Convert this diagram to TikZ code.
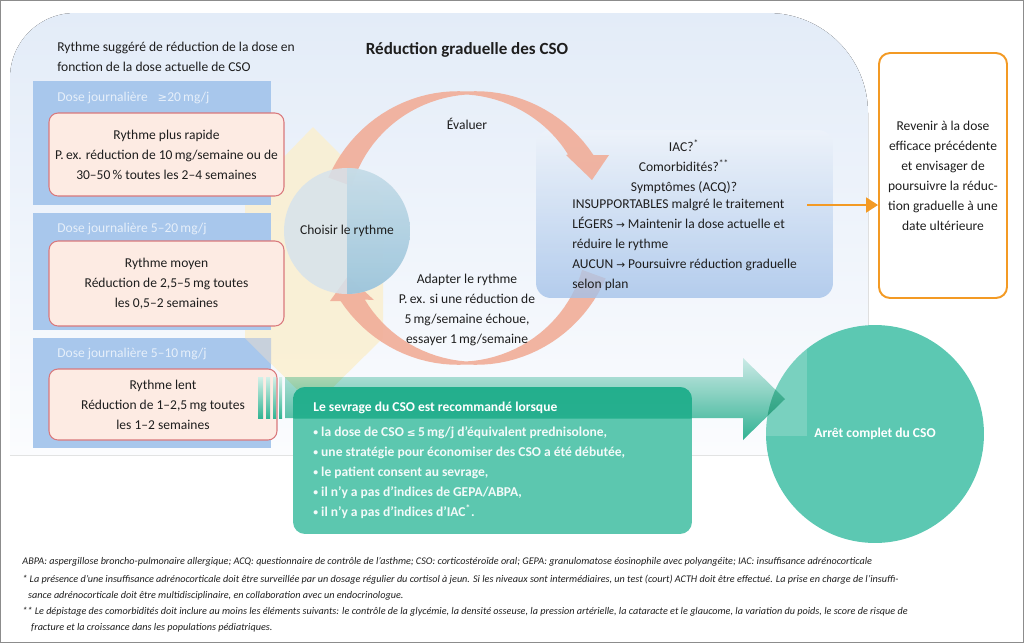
\documentclass[tikz,border=0pt]{standalone}
\usepackage{fontspec}
\setmainfont{Carlito}
\newfontfamily\symfont{DejaVu Sans}
\usetikzlibrary{arrows.meta}

\definecolor{bgtop}{HTML}{E3ECF8}
\definecolor{bgbottom}{HTML}{FBFCFE}
\definecolor{panelblue}{HTML}{A8C7EC}
\definecolor{headwhite}{HTML}{E6EFFA}
\definecolor{pinkfill}{HTML}{FDEBE3}
\definecolor{pinkline}{HTML}{D9787C}
\definecolor{hintyellow}{HTML}{FBEFCD}
\definecolor{hintgrey}{HTML}{C8D1DC}
\definecolor{ringsalmon}{HTML}{F1AD98}
\definecolor{bilantop}{HTML}{EEF3FA}
\definecolor{bilanbottom}{HTML}{A2C1E9}
\definecolor{choixgrey}{HTML}{D6E3EC}
\definecolor{choixtop}{HTML}{C4DCE8}
\definecolor{choixbottom}{HTML}{96C2DA}
\definecolor{retourorange}{HTML}{F39A24}
\definecolor{flechetop}{HTML}{D3F0E8}
\definecolor{flechebottom}{HTML}{33B594}
\definecolor{sevragegreen}{HTML}{5CC7AF}
\definecolor{sevragedark}{HTML}{22AE8C}
\definecolor{arretgreen}{HTML}{5CC8B2}
\definecolor{textdark}{HTML}{1E1E1E}
\definecolor{framegrey}{HTML}{8C8C8C}

\newcommand{\puce}{{\fontsize{5.5}{5}\selectfont\raisebox{0.3ex}{•}}}
\newcommand{\fleche}{{\symfont\fontsize{6}{6}\selectfont →}}

\begin{document}
\begin{tikzpicture}[x=0.02cm, y=-0.02cm,
  declare function={hw(\t)=1.5+9.5*abs(\t-90)/60;},
  txt/.style={font=\fontsize{7.7}{11.4}\selectfont, text=textdark, inner sep=0pt, align=center},
  bold/.style={font=\fontsize{7.7}{11.4}\selectfont\bfseries},
  dosehead/.style={txt, anchor=west, text=headwhite},
  rythme/.style={txt, draw=pinkline, line width=0.6pt, fill=pinkfill, rounded corners=0.18cm},
  ring/.style={fill=ringsalmon, fill opacity=0.9},
  bilan/.style={rounded corners=0.3cm, top color=bilantop, bottom color=bilanbottom, fill opacity=0.78},
  retour/.style={txt, draw=retourorange, line width=1.1pt, fill=white, rounded corners=0.22cm},
  orangearrow/.style={retourorange, line width=1.1pt, -{Triangle[length=0.24cm,width=0.3cm]}},
  note/.style={font=\fontsize{5.8}{9.2}\selectfont\itshape, text=textdark, anchor=west, align=left, inner sep=0pt}]

  \useasboundingbox (0,0) rectangle (1024,643);

  % fond
  \fill[top color=bgtop, bottom color=bgbottom] (10,455) -- (10,78)
    arc[start angle=180, end angle=270, radius=65] -- (768,13)
    arc[start angle=270, end angle=360, radius=100] -- (868,455) -- cycle;

  \node[circle, fill=arretgreen, minimum size=4.36cm, text=white, bold,
    path picture={\fill[white, fill opacity=0.18] (path picture bounding box.north west) rectangle (-7,-2);}]
    (arret) at (875,434) {Arrêt complet du CSO};

  \fill[hintyellow, fill opacity=0.8] (313,127) -- (383,197) -- (383,338) -- (314,406) -- (245,338) -- (245,197) -- cycle;

  % rythmes selon la dose
  \fill[panelblue] (33,81) rectangle (271,205);
  \fill[panelblue] (33,213) rectangle (271,330);
  \fill[panelblue] (33,338) rectangle (271,448);
  \fill[hintgrey] (245,338) -- (271,338) -- (271,364) -- cycle;

  \node[dosehead] (dose_0) at (57,98) {Dose journalière \enspace{\symfont\fontsize{6.5}{6}\selectfont ≥}20\,mg/j};
  \node[dosehead] (dose_1) at (57,229) {Dose journalière 5–20\,mg/j};
  \node[dosehead] (dose_2) at (57,354) {Dose journalière 5–10\,mg/j};

  \node[rythme, minimum width=4.7cm, minimum height=1.66cm] (rythme_0) at (166.5,154.5)
    {Rythme plus rapide\\P.\,ex. réduction de 10\,mg/semaine ou de\\30–50\,\% toutes les 2–4 semaines};
  \node[rythme, minimum width=4.7cm, minimum height=1.7cm] (rythme_1) at (166.5,283.5)
    {Rythme moyen\\Réduction de 2,5–5\,mg toutes\\les 0,5–2 semaines};
  \node[rythme, minimum width=4.56cm, minimum height=1.42cm] (rythme_2) at (163,404.5)
    {Rythme lent\\Réduction de 1–2,5\,mg toutes\\les 1–2 semaines};

  % cycle
  \fill[ring] plot[domain=-20:-150, samples=40] ({467+(135+hw(-\x))*cos(\x)},{228-(135+hw(-\x))*sin(\x)})
    -- (330,301) -- (348,276) -- (374,300)
    -- plot[domain=-145:-20, samples=40] ({467+(135-hw(-\x))*cos(\x)},{228-(135-hw(-\x))*sin(\x)}) -- cycle;

  \node[bilan, minimum width=5.94cm, minimum height=3.36cm] (bilan) at (684.5,214) {};
  \node[txt] (bilan_q) at (684,167) {IAC?\textsuperscript{*}\\Comorbidités?\textsuperscript{**}\\Symptômes (ACQ)?};
  \node[txt, anchor=west, align=left] (bilan_r) at (572,245)
    {INSUPPORTABLES malgré le traitement\\LÉGERS \fleche{} Maintenir la dose actuelle et\\réduire le rythme\\AUCUN \fleche{} Poursuivre réduction graduelle\\selon plan};

  \fill[ring] plot[domain=160:30, samples=40] ({467+(135+hw(\x))*cos(\x)},{228-(135+hw(\x))*sin(\x)})
    -- (609,155) -- (592,180) -- (566,155)
    -- plot[domain=36:160, samples=40] ({467+(135-hw(\x))*cos(\x)},{228-(135-hw(\x))*sin(\x)}) -- cycle;

  \node[circle, minimum size=2.52cm, fill=choixgrey, fill opacity=0.85, text opacity=1, txt,
    path picture={\shade[top color=choixtop, bottom color=choixbottom] (path picture bounding box.north) rectangle (path picture bounding box.south east);}]
    (choix) at (347,231) {Choisir le rythme};

  \node[txt] (evaluer) at (467,124) {Évaluer};
  \node[txt] (adapter) at (467,310) {Adapter le rythme\\P.\,ex. si une réduction de\\5\,mg/semaine échoue,\\essayer 1\,mg/semaine};

  % retour
  \node[retour, minimum width=2.56cm, minimum height=4.9cm] (retour) at (943,175.5)
    {Revenir à la dose\\efficace précédente\\et envisager de\\poursuivre la réduc-\\tion graduelle à une\\date ultérieure};
  \coordinate (bilan_out) at (807,205);
  \draw[orangearrow] (bilan_out) -- (retour.west |- bilan_out);

  % sevrage
  \foreach \a/\b in {258/263, 266/270, 273/276, 279/282}
    \shade[top color=flechetop, bottom color=flechebottom] (\a,377) rectangle (\b,418);
  \begin{scope}[blend mode=multiply]
    \shade[top color=flechetop, bottom color=flechebottom] (285,377) -- (743,377) -- (743,358)
      -- (785,399) -- (743,440) -- (743,418) -- (285,418) -- cycle;
  \end{scope}

  \node[fill=sevragegreen, rounded corners=0.24cm, minimum width=7.98cm, minimum height=2.94cm,
    path picture={\shade[top color=sevragedark, bottom color=sevragedark!75!sevragegreen] (-210,-84) rectangle (210,-42);}]
    (sevrage) at (492.5,460.5) {};
  \node[txt, bold, text=white, anchor=west] (sevrage_titre) at (313,408) {Le sevrage du CSO est recommandé lorsque};
  \node[txt, bold, text=white!92!sevragegreen, anchor=west, align=left] (sevrage_liste) at (313,473)
    {\puce{} la dose de CSO {\symfont\fontsize{6}{6}\selectfont ≤}\,5\,mg/j d’équivalent prednisolone,\\\puce{} une stratégie pour économiser des CSO a été débutée,\\\puce{} le patient consent au sevrage,\\\puce{} il n’y a pas d’indices de GEPA/ABPA,\\\puce{} il n’y a pas d’indices d’IAC\textsuperscript{*}.};

  % titres
  \node[txt, anchor=west, align=left] (consigne) at (57,57) {Rythme suggéré de réduction de la dose en\\fonction de la dose actuelle de CSO};
  \node[txt, font=\fontsize{9.7}{12}\selectfont\bfseries] (titre) at (467,50) {Réduction graduelle des CSO};

  % notes
  \node[note] (note_0) at (22,562) {ABPA: aspergillose broncho-pulmonaire allergique; ACQ: questionnaire de contrôle de l’asthme; CSO: corticostéroïde oral; GEPA: granulomatose éosinophile avec polyangéite; IAC: insuffisance adrénocorticale};
  \node[note] (note_1) at (22,588) {* La présence d’une insuffisance adrénocorticale doit être surveillée par un dosage régulier du cortisol à jeun. Si les niveaux sont intermédiaires, un test (court) ACTH doit être effectué. La prise en charge de l’insuffi-\\\hspace*{1.2ex}sance adrénocorticale doit être multidisciplinaire, en collaboration avec un endocrinologue.};
  \node[note] (note_2) at (22,619.5) {** Le dépistage des comorbidités doit inclure au moins les éléments suivants: le contrôle de la glycémie, la densité osseuse, la pression artérielle, la cataracte et le glaucome, la variation du poids, le score de risque de\\\hspace*{1.8ex}fracture et la croissance dans les populations pédiatriques.};

  \draw[framegrey, line width=0.8pt] (0.5,0.5) rectangle (1023.5,642.5);
\end{tikzpicture}
\end{document}
